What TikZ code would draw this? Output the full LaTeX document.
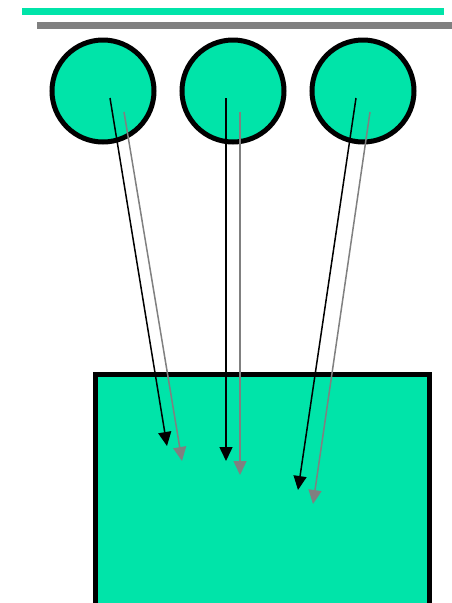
\documentclass[tikz,border=0pt]{standalone}
\usepackage{xcolor}
\usepackage{tikz}
\usetikzlibrary{arrows.meta}
\definecolor{cMint}{HTML}{00E4A9}
\definecolor{cGrey}{HTML}{808080}

\begin{document}
\begin{tikzpicture}[x=1pt, y=-1pt,
    cell/.style={circle, draw=black, fill=cMint, line width=5pt,
                 minimum size=102pt, inner sep=0pt},
    link/.style={line width=1.5pt, -{Triangle[length=14pt,width=13pt]}},
    linkB/.style={link, draw=black},
    linkG/.style={link, draw=cGrey}]
  \clip (0,0) rectangle (452,603);
  % bars on top
  \fill[cMint] (22,8) rectangle (444,15);
  \fill[cGrey] (37,22) rectangle (452,29);
  % big block
  \draw[fill=cMint, line width=5pt] (95.5,650) -- (95.5,374.5)
    -- (429.5,374.5) -- (429.5,650);
  % circles
  \node[cell] (c1) at (103,91) {};
  \node[cell] (c2) at (233,91) {};
  \node[cell] (c3) at (363,91) {};
  % start and end points
  \coordinate (s1b) at (110,98);  \coordinate (e1b) at (167,446);
  \coordinate (s1g) at (124,112); \coordinate (e1g) at (182,461);
  \coordinate (s2b) at (226,98);  \coordinate (e2b) at (226,461);
  \coordinate (s2g) at (240,112); \coordinate (e2g) at (240,475);
  \coordinate (s3b) at (356,98);  \coordinate (e3b) at (298,490);
  \coordinate (s3g) at (370,112); \coordinate (e3g) at (313,504);
  % arrows
  \foreach \i in {1,2,3} {
    \draw[linkB] (s\i b) -- (e\i b);
    \draw[linkG] (s\i g) -- (e\i g);
  }
\end{tikzpicture}
\end{document}
